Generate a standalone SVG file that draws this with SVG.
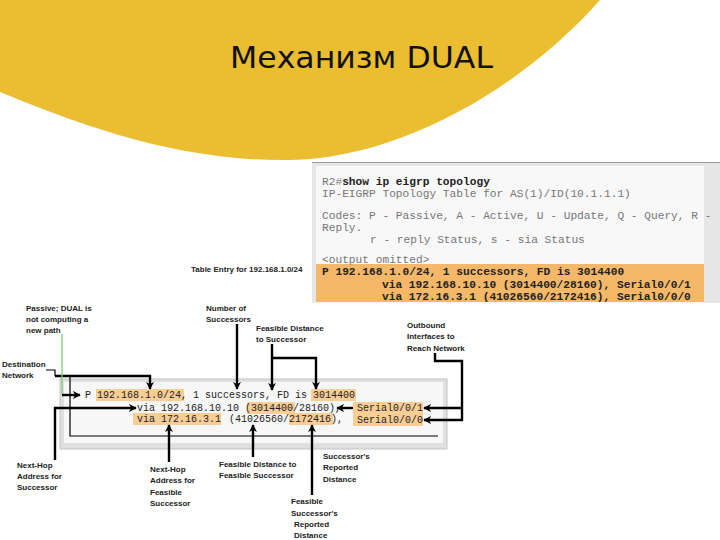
<svg xmlns="http://www.w3.org/2000/svg" width="720" height="540" viewBox="0 0 720 540">
<defs>
<style>
.lbl{font-family:"Liberation Sans",Arial,sans-serif;font-size:8px;font-weight:bold;fill:#222}
.mono{font-family:"Liberation Mono","Courier New",monospace}
.t1{font-size:11.2px;fill:#777}
.t1b{font-size:11.2px;font-weight:bold;fill:#222}
.t2{font-size:10px;fill:#222}
.hl{fill:#F9CD96}
.con{fill:none;stroke:#000;stroke-width:2.4;marker-end:url(#ah)}
.ln{fill:none;stroke:#000;stroke-width:2.4}
</style>
<marker id="ah" viewBox="0 0 10 10" refX="9" refY="5" markerWidth="3.3" markerHeight="3.3" orient="auto" markerUnits="strokeWidth"><path d="M0,0 L10,5 L0,10 L3,5 Z" fill="#000"/></marker>
</defs>
<rect width="720" height="540" fill="#fff"/>
<path d="M0,0 L0,92 C80,125 180,162 290,160 C400,158 520,90 600,0 Z" fill="#EBBE32"/>
<text x="230" y="68" font-family="DejaVu Sans,Verdana,sans-serif" font-size="30" fill="#111" textLength="263" lengthAdjust="spacingAndGlyphs">Механизм DUAL</text>

<g id="terminal">
<rect x="312" y="162" width="410" height="141" fill="#e6e6e6"/>
<line x1="312" y1="162.5" x2="720" y2="162.5" stroke="#9a9a9a" stroke-width="1"/>
<rect x="316" y="166" width="388" height="137" fill="#f8f8f8"/>
<rect x="316" y="264" width="388" height="38" fill="#F5B868"/>
<text class="mono t1" x="322" y="185">R2#<tspan class="t1b">show ip eigrp topology</tspan></text>
<text class="mono t1" x="322" y="197">IP-EIGRP Topology Table for AS(1)/ID(10.1.1.1)</text>
<text class="mono t1" x="322" y="219">Codes: P - Passive, A - Active, U - Update, Q - Query, R -</text>
<text class="mono t1" x="322" y="231">Reply.</text>
<text class="mono t1" x="370" y="243">r - reply Status, s - sia Status</text>
<text class="mono t1" x="322" y="263">&lt;output omitted&gt;</text>
<text class="mono t1b" x="322" y="275">P 192.168.1.0/24, 1 successors, FD is 3014400</text>
<text class="mono t1b" x="382" y="288">via 192.168.10.10 (3014400/28160), Serial0/0/1</text>
<text class="mono t1b" x="382" y="300">via 172.16.3.1 (41026560/2172416), Serial0/0/0</text>
</g>

<g id="entry">
<rect x="60" y="379" width="387" height="70" fill="#e0e0e0" stroke="#c4c4c4" stroke-width="1"/>
<rect x="64" y="382" width="379" height="61" fill="#f7f7f7"/>
<path d="M70,377 V436 H438" fill="none" stroke="#000" stroke-width="1.2"/>
<rect class="hl" x="96" y="389" width="88" height="12"/>
<rect class="hl" x="311" y="389" width="45" height="12"/>
<rect class="hl" x="247" y="402" width="48" height="12"/>
<rect class="hl" x="353" y="402" width="70" height="12"/>
<rect class="hl" x="133" y="413" width="88" height="12"/>
<rect class="hl" x="289" y="413" width="44" height="12"/>
<rect class="hl" x="353" y="414" width="70" height="12"/>
<text class="mono t2" x="85" y="398">P 192.168.1.0/24, 1 successors, FD is 3014400</text>
<text class="mono t2" x="137" y="411">via 192.168.10.10 (3014400/28160),</text>
<text class="mono t2" x="357" y="411">Serial0/0/1</text>
<text class="mono t2" x="137" y="422">via 172.16.3.1</text>
<text class="mono t2" x="229" y="422">(41026560/2172416),</text>
<text class="mono t2" x="357" y="423">Serial0/0/0</text>
</g>

<g id="labels">
<text class="lbl" x="191" y="272" font-size="7.5">Table Entry for 192.168.1.0/24</text>
<text class="lbl" x="26" y="311">Passive; DUAL is</text>
<text class="lbl" x="26" y="322">not computing a</text>
<text class="lbl" x="26" y="333">new path</text>
<text class="lbl" x="206" y="311">Number of</text>
<text class="lbl" x="206" y="322">Successors</text>
<text class="lbl" x="256" y="331">Feasible Distance</text>
<text class="lbl" x="256" y="342">to Successor</text>
<text class="lbl" x="407" y="328">Outbound</text>
<text class="lbl" x="407" y="339">Interfaces to</text>
<text class="lbl" x="407" y="351">Reach Network</text>
<text class="lbl" x="2" y="367">Destination</text>
<text class="lbl" x="2" y="378">Network</text>
<text class="lbl" x="17" y="468">Next-Hop</text>
<text class="lbl" x="17" y="479">Address for</text>
<text class="lbl" x="17" y="490">Successor</text>
<text class="lbl" x="150" y="472">Next-Hop</text>
<text class="lbl" x="150" y="483">Address for</text>
<text class="lbl" x="150" y="495">Feasible</text>
<text class="lbl" x="150" y="506">Successor</text>
<text class="lbl" x="219" y="467">Feasible Distance to</text>
<text class="lbl" x="219" y="478">Feasible Successor</text>
<text class="lbl" x="323" y="459">Successor's</text>
<text class="lbl" x="323" y="470">Reported</text>
<text class="lbl" x="323" y="482">Distance</text>
<text class="lbl" x="291" y="504">Feasible</text>
<text class="lbl" x="291" y="516">Successor's</text>
<text class="lbl" x="294" y="527">Reported</text>
<text class="lbl" x="294" y="538">Distance</text>
</g>

<g id="connectors">
<path d="M46,370 H55 V376" fill="none" stroke="#000" stroke-width="1.2"/>
<path class="con" d="M55,376 H150 V389"/>
<path d="M62,334 V395" fill="none" stroke="#77cc77" stroke-width="1.3"/>
<path class="con" d="M62,395 H80"/>
<path class="con" d="M237,324 V389"/>
<path class="con" d="M272,344 V390"/>
<path class="con" d="M272,358 H316 V389"/>
<path class="con" d="M435,353 V361 H462 V420 H424"/>
<path class="con" d="M462,408 H424"/>
<path class="con" d="M353,408 H337"/>
<path class="con" d="M55,460 V408 H136"/>
<path class="con" d="M169,462 V425"/>
<path class="con" d="M253,457 V425" stroke-width="1.8"/>
<path class="con" d="M312,495 V425"/>
</g>
</svg>
